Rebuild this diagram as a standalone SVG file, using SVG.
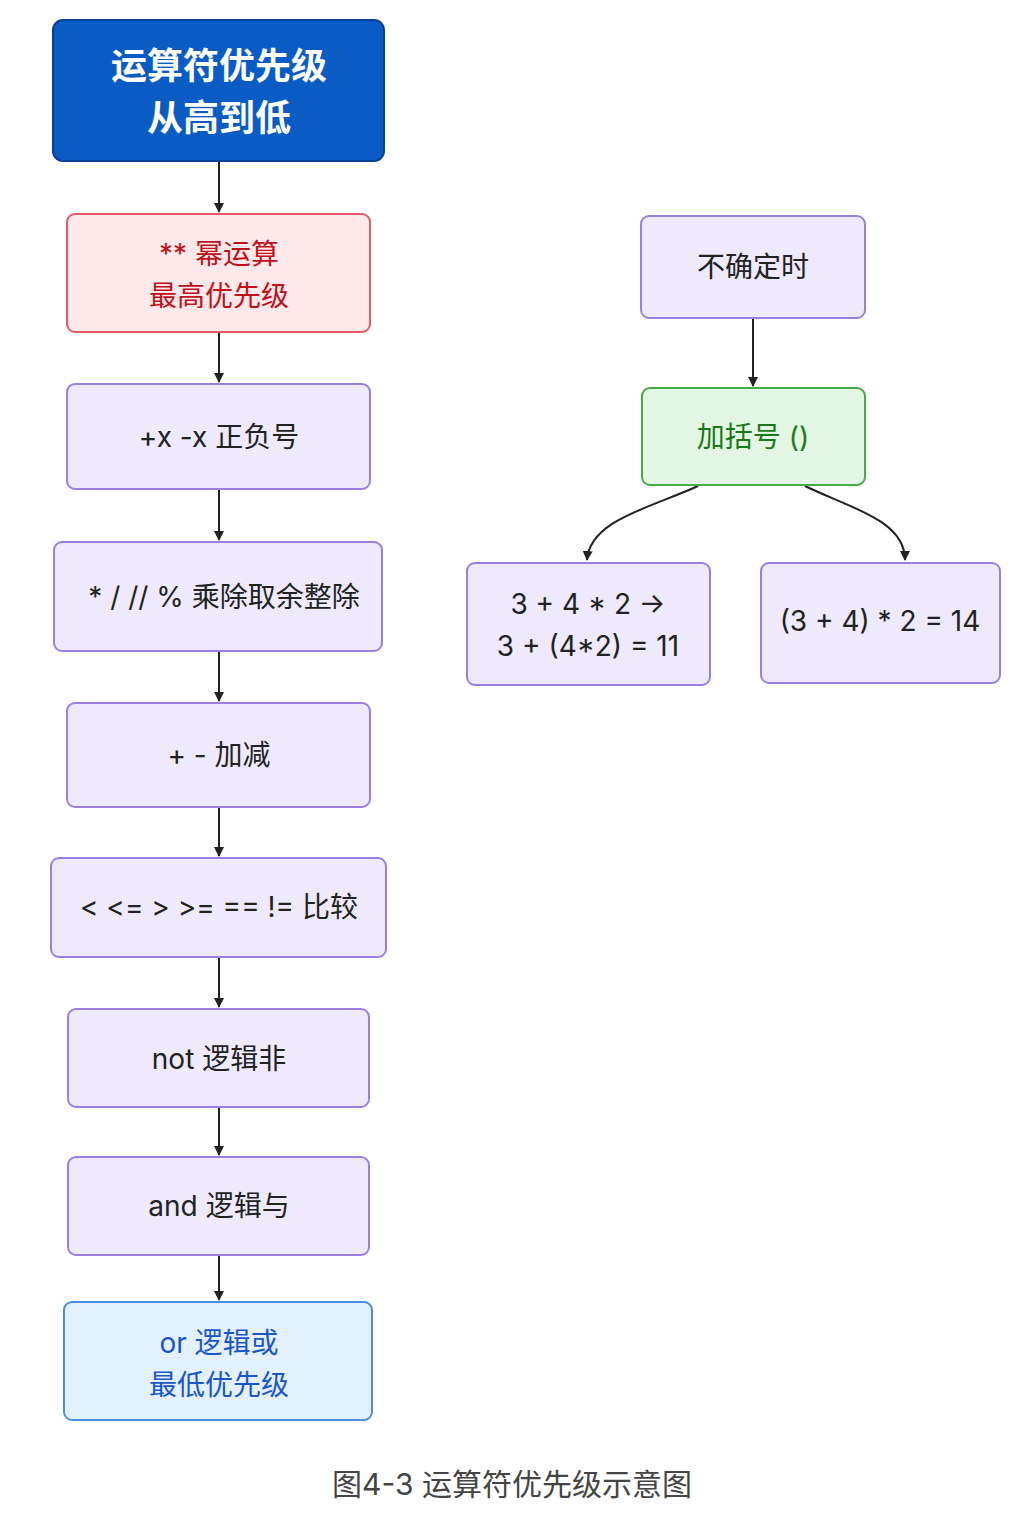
<svg xmlns="http://www.w3.org/2000/svg" width="1024" height="1536" viewBox="0 0 1024 1536">
<style>
text{font-family:"Inter","Noto Sans CJK SC",sans-serif;text-anchor:middle;dominant-baseline:central;font-size:28px;fill:#222}
.n{fill:#eeeafc;stroke:#9b7fe0;stroke-width:2}
.c{stroke:#222;stroke-width:2;fill:none;marker-end:url(#a)}
</style>
<defs><marker id="a" markerWidth="10" markerHeight="10" refX="9" refY="5" orient="auto" markerUnits="userSpaceOnUse"><path d="M0,0L10,5L0,10z" fill="#222"/></marker></defs>
<rect width="1024" height="1536" fill="#fff"/>
<g id="connectors">
<path class="c" d="M219,162V212"/>
<path class="c" d="M219,333V382"/>
<path class="c" d="M219,490V540"/>
<path class="c" d="M219,652V701"/>
<path class="c" d="M219,808V856"/>
<path class="c" d="M219,958V1007"/>
<path class="c" d="M219,1108V1155"/>
<path class="c" d="M219,1256V1300"/>
<path class="c" d="M753,319V386"/>
<path class="c" d="M698,486C650,508 590,520 587,560"/>
<path class="c" d="M805,486C850,508 905,520 905,560"/>
</g>
<g id="title"><rect x="53" y="20" width="331" height="141" rx="10" fill="#0a5cc4" stroke="#0a3f96" stroke-width="2"/>
<text x="219" y="66" style="font-size:36px;font-weight:bold;fill:#fff">运算符优先级</text>
<text x="219" y="118" style="font-size:36px;font-weight:bold;fill:#fff">从高到低</text></g>
<g id="pow"><rect x="67" y="214" width="303" height="118" rx="8" fill="#fde8ea" stroke="#e05a6a" stroke-width="2"/>
<text x="219" y="254" style="fill:#c0101a">** 幂运算</text><text x="219" y="296" style="fill:#c0101a">最高优先级</text></g>
<g id="unary"><rect class="n" x="67" y="384" width="303" height="105" rx="8"/><text x="219" y="437">+x -x 正负号</text></g>
<g id="mul"><rect class="n" x="54" y="542" width="328" height="109" rx="8"/><text x="224" y="597">* / // % 乘除取余整除</text></g>
<g id="add"><rect class="n" x="67" y="703" width="303" height="104" rx="8"/><text x="219" y="755">+ - 加减</text></g>
<g id="cmp"><rect class="n" x="51" y="858" width="335" height="99" rx="8"/><text x="219" y="907">&lt; &lt;= &gt; &gt;= == != 比较</text></g>
<g id="not"><rect class="n" x="68" y="1009" width="301" height="98" rx="8"/><text x="219" y="1059">not 逻辑非</text></g>
<g id="and"><rect class="n" x="68" y="1157" width="301" height="98" rx="8"/><text x="219" y="1206">and 逻辑与</text></g>
<g id="or"><rect x="64" y="1302" width="308" height="118" rx="8" fill="#e3f0fd" stroke="#4a8ee0" stroke-width="2"/>
<text x="219" y="1343" style="fill:#1a56c8">or 逻辑或</text><text x="219" y="1385" style="fill:#1a56c8">最低优先级</text></g>
<g id="unsure"><rect class="n" x="641" y="216" width="224" height="102" rx="8"/><text x="753" y="267">不确定时</text></g>
<g id="paren"><rect x="642" y="388" width="223" height="97" rx="8" fill="#e3f5e3" stroke="#4aaa4a" stroke-width="2"/><text x="753" y="437" style="fill:#1a7a1a">加括号 ()</text></g>
<g id="ex1"><rect class="n" x="467" y="563" width="243" height="122" rx="8"/><text x="588" y="604">3 + 4 * 2 →</text><text x="588" y="646">3 + (4*2) = 11</text></g>
<g id="ex2"><rect class="n" x="761" y="563" width="239" height="120" rx="8"/><text x="880" y="621">(3 + 4) * 2 = 14</text></g>
<text x="512" y="1484" style="font-size:30px;fill:#444">图4-3   运算符优先级示意图</text>
</svg>
